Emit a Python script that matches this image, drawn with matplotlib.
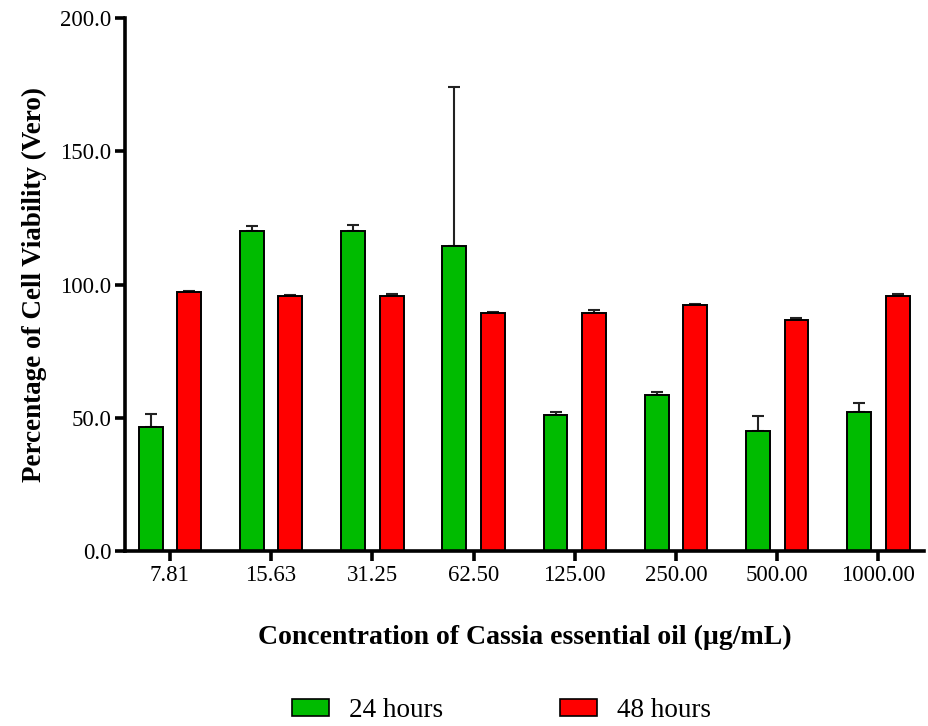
import matplotlib
matplotlib.use("Agg")
import matplotlib.pyplot as plt
import numpy as np
from matplotlib.patches import Patch

plt.rcParams["font.family"] = ["Liberation Serif", "DejaVu Serif"]

concentrations = ["7.81", "15.63", "31.25", "62.50", "125.00", "250.00", "500.00", "1000.00"]
viability_24h = [46.6, 120.0, 120.2, 114.5, 51.1, 58.6, 45.0, 52.3]
sd_24h = [4.9, 2.0, 2.0, 59.5, 0.9, 1.2, 5.5, 3.3]
viability_48h = [97.4, 95.6, 95.8, 89.4, 89.4, 92.2, 86.8, 95.8]
sd_48h = [0.2, 0.6, 0.5, 0.5, 0.9, 0.6, 0.7, 0.8]

GREEN = "#00BB00"
RED = "#FF0000"

fig = plt.figure(figsize=(9.29, 7.26), dpi=100)
ax = fig.add_axes([0.1346, 0.241, 0.86, 0.734])

x = np.arange(len(concentrations))
width = 0.236
offset = 0.19

ax.bar(x - offset, viability_24h, width, color=GREEN, edgecolor="black", linewidth=1.4, zorder=2)
ax.bar(x + offset, viability_48h, width, color=RED, edgecolor="black", linewidth=1.4, zorder=2)

# one-sided (upper) error bars
ax.errorbar(x - offset, viability_24h, yerr=[np.zeros(len(x)), sd_24h], fmt="none",
            ecolor="#222222", elinewidth=1.5, capsize=4, capthick=1.5, zorder=1)
ax.errorbar(x + offset, viability_48h, yerr=[np.zeros(len(x)), sd_48h], fmt="none",
            ecolor="#222222", elinewidth=1.5, capsize=4, capthick=1.5, zorder=1)

ax.set_xlim(-0.443, len(x) - 1 + 0.45)
ax.set_ylim(0, 200)
ax.set_yticks([0, 50, 100, 150, 200])
ax.set_yticklabels([f"{v:.1f}" for v in [0, 50, 100, 150, 200]])
ax.set_xticks(x)
ax.set_xticklabels(concentrations)

for side in ("top", "right"):
    ax.spines[side].set_visible(False)
for side in ("left", "bottom"):
    ax.spines[side].set_linewidth(2.6)
ax.tick_params(axis="both", width=2.6, length=7, labelsize=16.5, direction="out", pad=3)

ax.set_ylabel("Percentage of Cell Viability (Vero)", fontsize=19.5, fontweight="bold", labelpad=9)
ax.set_xlabel("Concentration of Cassia essential oil (µg/mL)", fontsize=20, fontweight="bold", labelpad=28)

handles = [
    Patch(facecolor=GREEN, edgecolor="black", linewidth=1.2, label="24 hours"),
    Patch(facecolor=RED, edgecolor="black", linewidth=1.2, label="48 hours"),
]
fig.legend(handles=handles, loc="lower center", bbox_to_anchor=(0.54, -0.03), ncol=2,
           frameon=False, fontsize=19.5, handlelength=1.35, handleheight=0.6,
           columnspacing=4.3, handletextpad=0.75)

fig.savefig("out.png", dpi=100)
